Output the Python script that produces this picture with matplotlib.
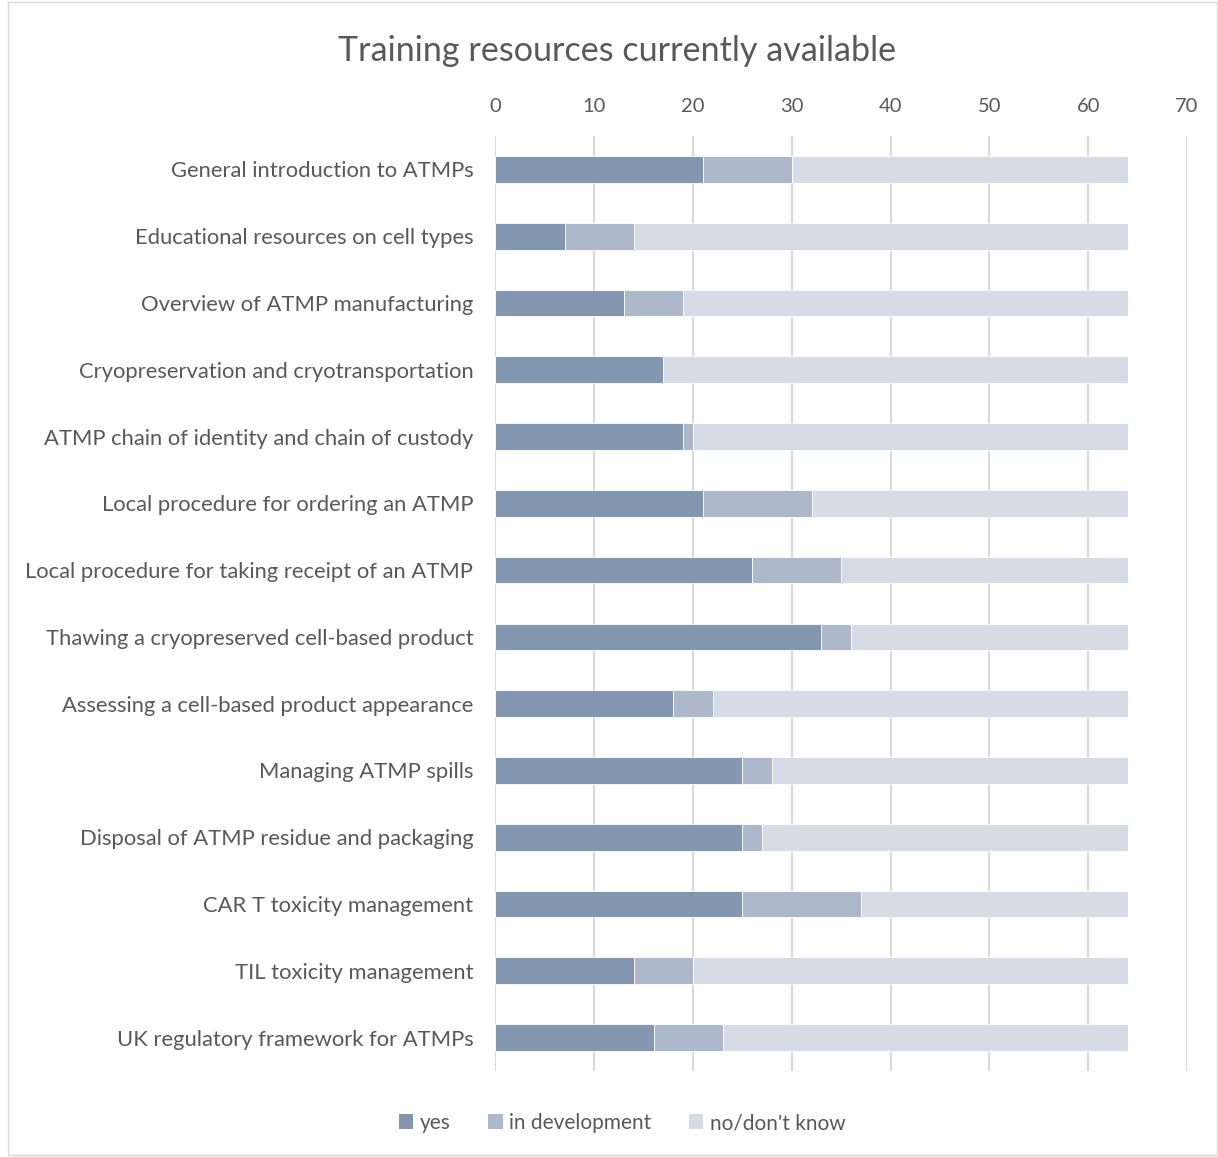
import matplotlib
matplotlib.use("Agg")
import matplotlib.pyplot as plt
from matplotlib.patches import Rectangle, Patch
import numpy as np

plt.rcParams['font.family'] = ['Lato', 'DejaVu Sans']

categories = [
    "General introduction to ATMPs",
    "Educational resources on cell types",
    "Overview of ATMP manufacturing",
    "Cryopreservation and cryotransportation",
    "ATMP chain of identity and chain of custody",
    "Local procedure for ordering an ATMP",
    "Local procedure for taking receipt of an ATMP",
    "Thawing a cryopreserved cell-based product",
    "Assessing a cell-based product appearance",
    "Managing ATMP spills",
    "Disposal of ATMP residue and packaging",
    "CAR T toxicity management",
    "TIL toxicity management",
    "UK regulatory framework for ATMPs",
]
yes = [21, 7, 13, 17, 19, 21, 26, 33, 18, 25, 25, 25, 14, 16]
in_development = [9, 7, 6, 0, 1, 11, 9, 3, 4, 3, 2, 12, 6, 7]
no_dont_know = [34, 50, 45, 47, 44, 32, 29, 28, 42, 36, 37, 27, 44, 41]
series_names = ["yes", "in development", "no/don't know"]
colors = ["#8497B0", "#ADB9CA", "#D6DCE5"]
xticks = [0, 10, 20, 30, 40, 50, 60, 70]

text_color = "#595959"
W, H = 1218, 1157
fig = plt.figure(figsize=(W / 100, H / 100), dpi=100)
ax = fig.add_axes([495.5 / W, 1 - 1071 / H, (1187 - 495.5) / W, (1071 - 136) / H])

y = np.arange(len(categories))
left = np.zeros(len(categories))
for vals, name, c in zip([yes, in_development, no_dont_know], series_names, colors):
    ax.barh(y, vals, left=left, height=0.4, color=c, label=name,
            edgecolor="white", linewidth=0.6, zorder=3)
    left = left + np.array(vals)

ax.set_xlim(0, 70)
ax.set_ylim(len(categories) - 0.5, -0.5)
ax.set_xticks(xticks)
ax.xaxis.tick_top()
ax.set_yticks(y)
ax.set_yticklabels(categories)
ax.tick_params(axis='x', length=0, pad=15, labelsize=14.5, labelcolor=text_color)
ax.tick_params(axis='y', length=0, pad=16, labelsize=15.8, labelcolor=text_color)
ax.grid(axis='x', color="#D9D9D9", linewidth=1.5, zorder=0)
for s in ax.spines.values():
    s.set_visible(False)

fig.text(617 / W, 1 - 51 / H, "Training resources currently available",
         ha="center", va="center", fontsize=24.6, color=text_color)

handles = [Patch(facecolor=c, edgecolor="none") for c in colors]
fig.legend(handles, series_names, loc="center", bbox_to_anchor=(622 / W, 1 - 1123 / H),
           ncol=3, frameon=False, fontsize=15, labelcolor=text_color,
           handlelength=0.7, handleheight=0.7, handletextpad=0.3, columnspacing=1.8)

fig.patches.append(Rectangle((8 / W, 2 / H), (W - 9) / W, (H - 4) / H, transform=fig.transFigure,
                             fill=False, edgecolor="#D9D9D9", linewidth=1))

fig.savefig("out.png", dpi=100)
